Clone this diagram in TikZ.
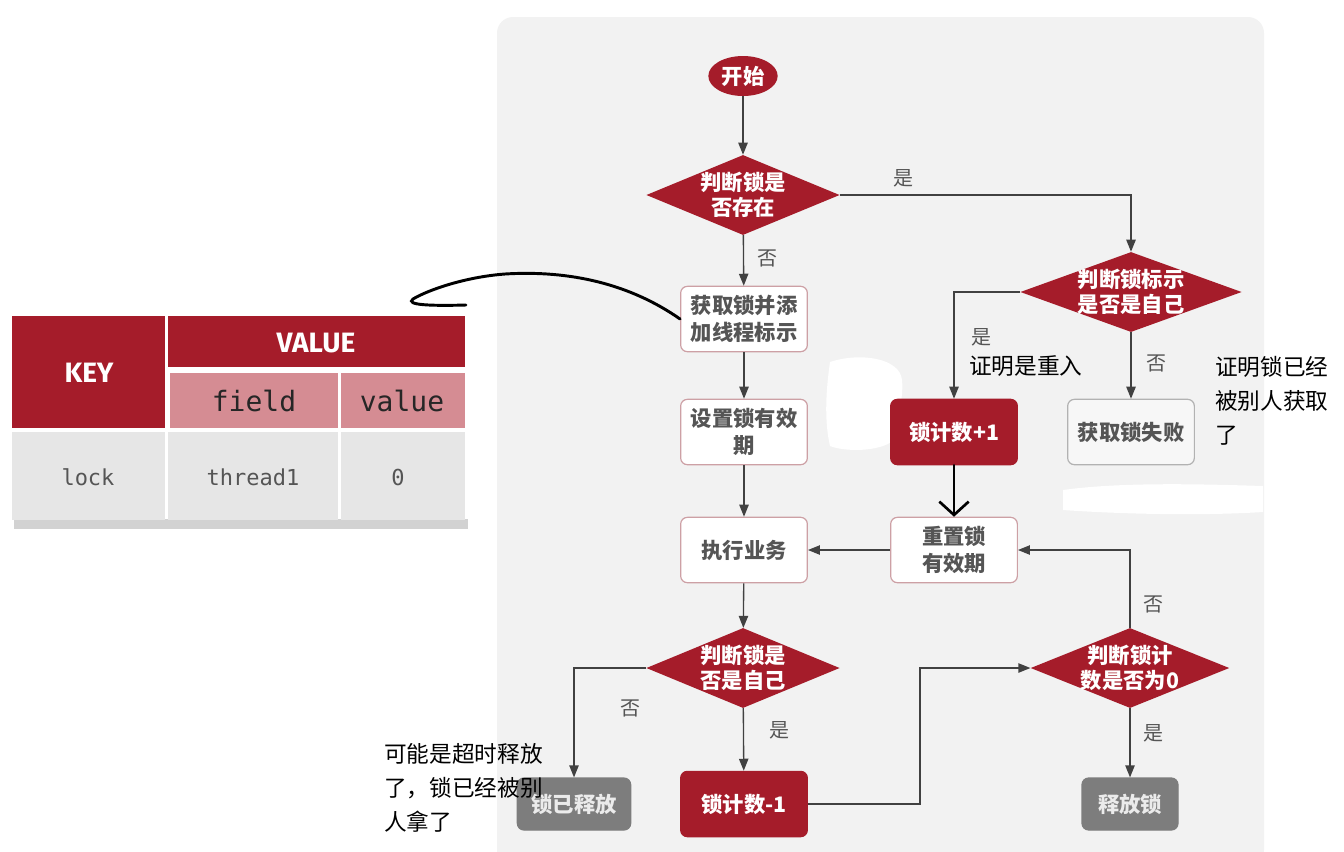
\documentclass[tikz,border=0pt]{standalone}
\usepackage{fontspec}
\usetikzlibrary{shapes.geometric,arrows.meta}
\newfontfamily\cjk{Noto Sans CJK SC}
\newfontfamily\headfont{Fira Sans}
\newfontfamily\codefont{DejaVu Sans Mono}
\definecolor{lockred}{RGB}{165,28,42}
\definecolor{pinkcell}{RGB}{213,140,147}
\definecolor{cellgrey}{RGB}{230,230,230}
\definecolor{panelgrey}{RGB}{242,242,242}
\definecolor{boxgrey}{RGB}{125,125,125}
\definecolor{linegrey}{RGB}{65,65,65}
\definecolor{boxedge}{RGB}{205,160,165}
\definecolor{boxtext}{RGB}{85,85,85}
\tikzset{
  flow/.style={draw=linegrey, line width=1pt, -{Triangle[length=9pt,width=7pt]}},
  handink/.style={draw=black, line width=2.2pt, line cap=round},
  startnode/.style={ellipse, fill=lockred, text=white, minimum width=52pt, minimum height=30pt, inner sep=0pt, font={\cjk\bfseries\fontsize{16}{20}\selectfont}},
  procbox/.style={rectangle, rounded corners=5pt, draw=boxedge, line width=0.9pt, fill=white, text=boxtext, align=center, minimum width=95pt, minimum height=49pt, inner sep=2pt, font={\cjk\bfseries\fontsize{16}{20}\selectfont}},
  redbox/.style={procbox, draw=lockred, fill=lockred, text=white},
  failbox/.style={procbox, draw=gray!60, fill=panelgrey!60!white},
  greybox/.style={procbox, draw=boxgrey, fill=boxgrey, text=white!92!black, minimum height=39pt},
  decision/.style={diamond, aspect=2.4, fill=lockred, text=white, align=center, inner sep=-5pt, minimum height=60pt, font={\cjk\bfseries\fontsize{16}{19}\selectfont}},
  lbl/.style={text=boxtext, inner sep=0pt, font={\cjk\fontsize{15}{18}\selectfont}},
  note/.style={text=black, inner sep=0pt, align=left, font={\cjk\fontsize{17}{25.5}\selectfont}},
  cellhead/.style={text=white, inner sep=0pt, font={\headfont\bfseries\fontsize{21}{24}\selectfont}},
  cellfield/.style={text=black!85, inner sep=0pt, font={\codefont\fontsize{21}{24}\selectfont}},
  celldata/.style={text=boxtext, inner sep=0pt, font={\codefont\fontsize{16.5}{20}\selectfont}}
}
\begin{document}
\begin{tikzpicture}[x=0.75pt,y=0.75pt,yscale=-1,xscale=1]
\useasboundingbox (0,0) rectangle (1344,851);
%Shape: Rectangle [panel]
\fill [panelgrey, rounded corners=12pt] (497,17) rectangle (1264,866);
%Shape: white patches
\fill [white] (830,362) .. controls (860,352) and (900,358) .. (902,380) .. controls (904,400) and (896,420) .. (894,440) .. controls (880,452) and (845,452) .. (830,446) .. controls (824,420) and (826,390) .. (830,362) -- cycle;
\fill [white] (1063,490) .. controls (1120,482) and (1200,484) .. (1263,486) -- (1263,512) .. controls (1200,516) and (1120,514) .. (1063,510) -- cycle;

%Table: hash structure
\fill [black!35, opacity=0.5] (14,519) rectangle (468,529);
\fill [lockred] (12,316) rectangle (165,428);
\fill [lockred] (168,316) rectangle (465,367);
\fill [pinkcell] (170,373) rectangle (338,428);
\fill [pinkcell] (341,373) rectangle (465,428);
\fill [cellgrey] (12,432) rectangle (165,520);
\fill [cellgrey] (168,432) rectangle (338,520);
\fill [cellgrey] (341,432) rectangle (465,520);
% Text Node
\draw (89,373) node [cellhead] (keyhead) {KEY};
\draw (316,343) node [cellhead] (valuehead) {VALUE};
\draw (254,401) node [cellfield] (fieldhead) {field};
\draw (402,401) node [cellfield] (valuesub) {value};
\draw (88,477) node [celldata] (lockcell) {lock};
\draw (253,477) node [celldata] (threadcell) {thread1};
\draw (398,477) node [celldata] (countcell) {0};

%Flow nodes
\draw (743,76) node [startnode] (start) {开始};
\draw (743,195) node [decision, minimum width=145pt] (exists) {判断锁是\\否存在};
\draw (744,319) node [procbox] (acquire) {获取锁并添\\加线程标示};
\draw (1131,292) node [decision, minimum width=166pt] (isown) {判断锁标示\\是否是自己};
\draw (954,432) node [redbox] (inc) {锁计数+1};
\draw (1131,432) node [failbox] (fail) {获取锁失败};
\draw (744,432) node [procbox] (expire) {设置锁有效\\期};
\draw (744,550) node [procbox] (exec) {执行业务};
\draw (954,550) node [procbox] (reset) {重置锁\\有效期};
\draw (743,668) node [decision, minimum width=145pt] (ownrel) {判断锁是\\否是自己};
\draw (1130,668) node [decision, minimum width=149pt] (iszero) {判断锁计\\数是否为0};
\draw (574,804) node [greybox, minimum width=85pt] (released) {锁已释放};
\draw (744,804) node [redbox] (dec) {锁计数-1};
\draw (1130,804) node [greybox, minimum width=72pt] (release) {释放锁};

%Connectors
\draw [flow] (start) -- (exists);
\draw [flow] (exists.east) -| (isown.north);
\draw [flow] (exists) -- (acquire);
\draw [flow] (isown.west) -| (inc.north);
\draw [flow] (isown) -- (fail);
\draw [flow] (acquire) -- (expire);
\draw [flow] (expire) -- (exec);
\draw [flow] (reset) -- (exec);
\draw [flow] (exec) -- (ownrel);
\draw [flow] (ownrel.west) -| (released.north);
\draw [flow] (ownrel) -- (dec);
\draw [flow] (dec.east) -- ++(112,0) |- (iszero.west);
\draw [flow] (iszero.north) |- (reset.east);
\draw [flow] (iszero) -- (release);

% Text Node
\draw (903,178) node [lbl] (yesexists) {是};
\draw (767,258) node [lbl] (noexists) {否};
\draw (981,337) node [lbl] (yesown) {是};
\draw (1156,363) node [lbl] (noown) {否};
\draw (630,708) node [lbl] (norel) {否};
\draw (779,730) node [lbl] (yesrel) {是};
\draw (1153,604) node [lbl] (nozero) {否};
\draw (1153,733) node [lbl] (yeszero) {是};

%Handwritten marks
\coordinate (hooktail) at (466,305);
\draw [handink] (acquire.west) .. controls (630,284) and (570,270) .. (505,274) .. controls (465,277) and (428,290) .. (413,299) .. controls (405,305) and (430,306) .. (hooktail);
\draw [handink, -{Straight Barb[length=10pt,width=22pt,line width=2pt]}] (inc.south) -- (reset.north);
% Text Node
\draw (969,366) node [note, anchor=west] (reentry) {证明是重入};
\draw (1215,356) node [note, anchor=north west] (taken) {证明锁已经\\被别人获取\\了};
\draw (384,743) node [note, anchor=north west] (expired) {可能是超时释放\\了，锁已经被别\\人拿了};
\end{tikzpicture}
\end{document}
